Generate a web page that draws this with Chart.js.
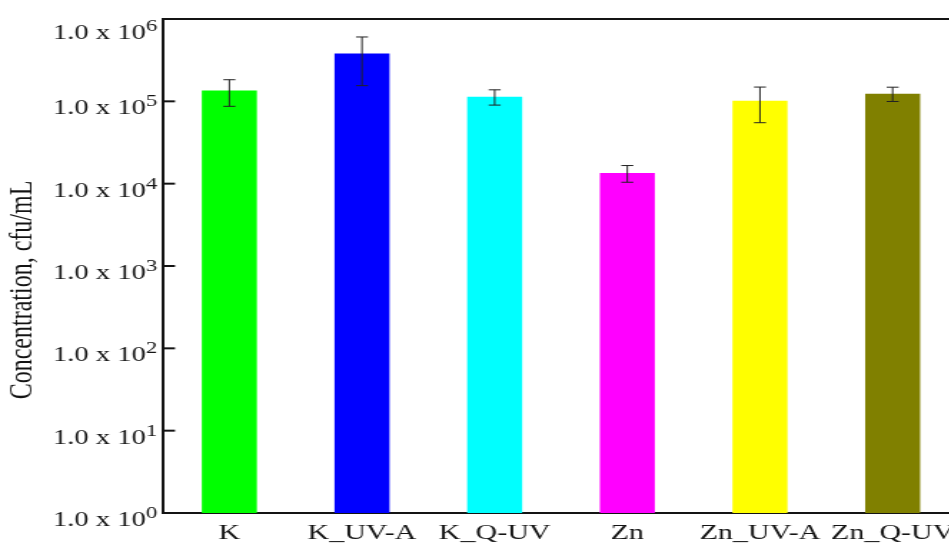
<!DOCTYPE html>
<html>
<head>
<meta charset="utf-8">
<script src="https://cdn.jsdelivr.net/npm/chart.js@4/dist/chart.umd.min.js"></script>
<style>
  html, body { margin: 0; padding: 0; background: #fff; overflow: hidden; width: 949px; height: 543px; }
  #wrap { position: absolute; left: 0; top: 0; width: 680px; height: 543px; transform: scaleX(1.43); transform-origin: 0 0; }
  canvas { display: block; }
</style>
</head>
<body>
<div id="wrap"><canvas id="c" width="680" height="543"></canvas></div>
<script>
// Bacterial concentration per treatment (cfu/mL), mean and error
const categories = ['K', 'K_UV-A', 'K_Q-UV', 'Zn', 'Zn_UV-A', 'Zn_Q-UV'];
const concentrations = [1.35e5, 3.8e5, 1.14e5, 1.35e4, 1.02e5, 1.24e5];
const errors = [4.8e4, 2.25e5, 2.4e4, 3.1e3, 4.7e4, 2.45e4];
const barColors = ['#00ff00', '#0000ff', '#00ffff', '#ff00ff', '#ffff00', '#808000'];
const yTickValues = [1, 10, 100, 1e3, 1e4, 1e5, 1e6];
const yTickMantissa = '1.0 x 10';
const yTickExponents = ['0', '1', '2', '3', '4', '5', '6'];
const yTitle = 'Concentration, cfu/mL';

const INK = '#141414';
const SERIF = '"Liberation Serif", "Times New Roman", serif';

// Error bars with caps, drawn on top of each bar
const errorBars = {
  id: 'errorBars',
  afterDatasetsDraw(chart) {
    const { ctx, scales: { y } } = chart;
    const bars = chart.getDatasetMeta(0).data;
    ctx.save();
    ctx.strokeStyle = '#222';
    ctx.lineWidth = 1;
    bars.forEach((bar, i) => {
      const hi = y.getPixelForValue(concentrations[i] + errors[i]);
      const lo = y.getPixelForValue(concentrations[i] - errors[i]);
      const x = bar.x, cap = 4.2;
      ctx.beginPath();
      ctx.moveTo(x, hi); ctx.lineTo(x, lo);
      ctx.moveTo(x - cap, hi); ctx.lineTo(x + cap, hi);
      ctx.moveTo(x - cap, lo); ctx.lineTo(x + cap, lo);
      ctx.stroke();
    });
    ctx.restore();
  }
};

// Top frame line, inward tick marks, power-of-ten labels and the y title
const axisDecor = {
  id: 'axisDecor',
  afterDraw(chart) {
    const { ctx, chartArea: a, scales: { y } } = chart;
    ctx.save();
    ctx.strokeStyle = INK;
    ctx.lineWidth = 2;
    ctx.beginPath();
    ctx.moveTo(a.left - 1, a.top);
    ctx.lineTo(chart.width, a.top);
    ctx.stroke();

    ctx.fillStyle = INK;
    ctx.textAlign = 'left';
    ctx.textBaseline = 'alphabetic';
    y.ticks.forEach((t, i) => {
      const py = y.getPixelForValue(t.value);
      ctx.beginPath();
      ctx.moveTo(a.left, py);
      ctx.lineTo(a.left + 8.4, py);
      ctx.stroke();

      const exp = yTickExponents[i];
      ctx.font = '16px ' + SERIF;
      const we = ctx.measureText(exp).width;
      ctx.font = '20px ' + SERIF;
      const wb = ctx.measureText(yTickMantissa).width;
      const right = 110;
      const base = py + (i === yTickValues.length - 1 ? 20 : 13);
      ctx.fillText(yTickMantissa, right - we - wb, base);
      ctx.font = '16px ' + SERIF;
      ctx.fillText(exp, right - we, base - 8);
    });

    ctx.translate(15.4, 290);
    ctx.rotate(-Math.PI / 2);
    ctx.textAlign = 'center';
    ctx.textBaseline = 'middle';
    ctx.font = '24px ' + SERIF;
    ctx.fillText(yTitle, 0, 0);
    ctx.restore();
  }
};

new Chart(document.getElementById('c'), {
  type: 'bar',
  data: {
    labels: categories,
    datasets: [{
      data: concentrations,
      backgroundColor: barColors,
      borderWidth: 0,
      categoryPercentage: 1,
      barPercentage: 0.415
    }]
  },
  options: {
    responsive: false,
    animation: false,
    devicePixelRatio: 1,
    layout: { padding: { top: 19, right: 9.4, left: 0, bottom: 0 } },
    plugins: { legend: { display: false }, tooltip: { enabled: false } },
    scales: {
      x: {
        grid: { display: false, drawTicks: false },
        border: { display: true, width: 2, color: INK },
        ticks: { font: { family: SERIF, size: 21 }, color: INK, padding: 8, maxRotation: 0, autoSkip: false },
        afterFit(s) { s.height = 30; }
      },
      y: {
        type: 'logarithmic',
        min: 1,
        max: 1e6,
        grid: { display: false, drawTicks: false },
        border: { display: true, width: 2, color: INK },
        ticks: { display: false },
        afterBuildTicks(s) { s.ticks = yTickValues.map(v => ({ value: v })); },
        afterFit(s) { s.width = 114; }
      }
    }
  },
  plugins: [errorBars, axisDecor]
});
</script>
</body>
</html>
